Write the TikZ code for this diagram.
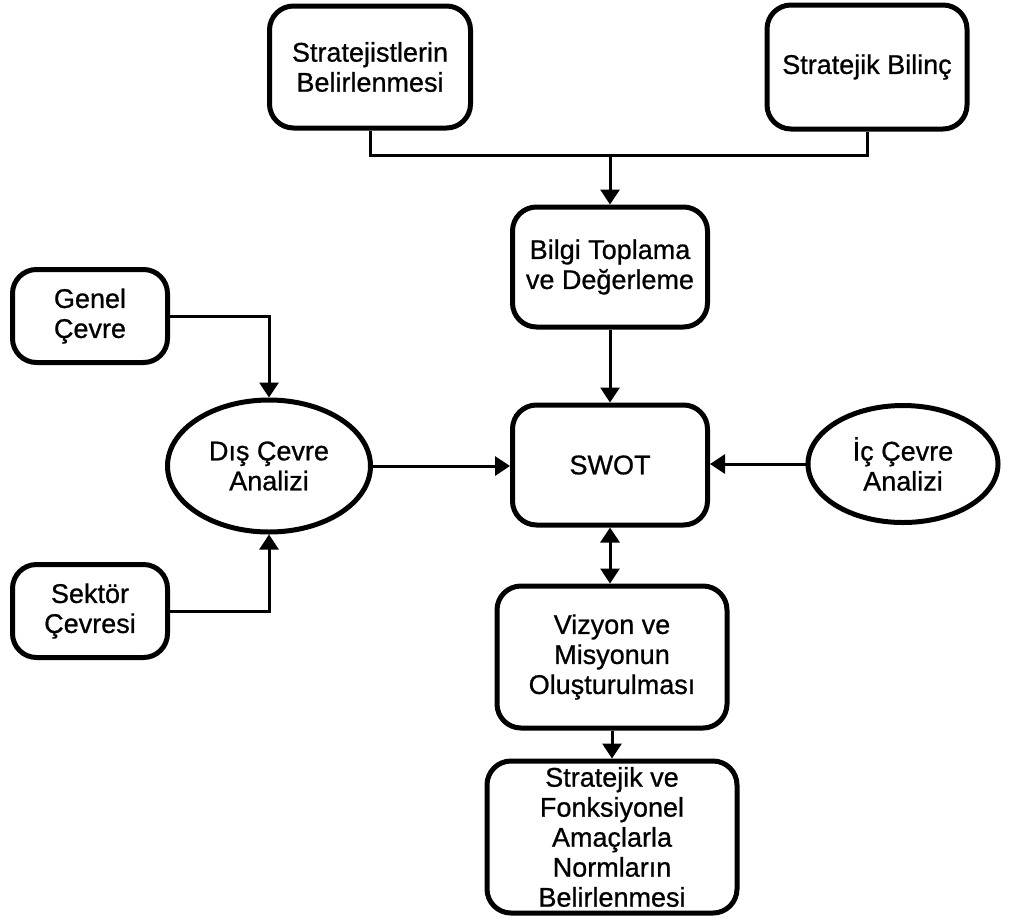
\documentclass[tikz,border=0pt]{standalone}
\usepackage{fontspec}
\setmainfont{Liberation Sans}[AutoFakeBold=0.8]
\usetikzlibrary{arrows.meta,shapes.geometric,calc}
\begin{document}
\begin{tikzpicture}[x=1pt,y=-1pt,
  every node/.style={font=\fontsize{27}{30}\selectfont\bfseries, align=center, inner sep=0pt},
  box/.style={draw, line width=5pt, rounded corners=24pt, rectangle},
  oval/.style={draw, line width=5pt, ellipse},
  link/.style={line width=3pt},
  arr/.style={link, -{Triangle[width=19pt,length=15pt]}},
  darr/.style={link, {Triangle[width=19pt,length=15pt]}-{Triangle[width=19pt,length=15pt]}}]
\useasboundingbox (0,0) rectangle (1019,919);

% boxes
\node[box, minimum width=201pt, minimum height=122pt] (strat) at (370,67) {Stratejistlerin\\Belirlenmesi};
\node[box, minimum width=200pt, minimum height=124pt] (bilinc) at (867,67) {Stratejik Bilinç};
\node[box, minimum width=195pt, minimum height=120pt] (bilgi) at (610,267) {Bilgi Toplama\\ve Değerleme};
\node[box, minimum width=155pt, minimum height=93pt] (genel) at (90,316) {Genel\\Çevre};
\node[oval, minimum width=203pt, minimum height=132pt] (dis) at (269,466) {Dış Çevre\\Analizi};
\node[box, minimum width=195pt, minimum height=120pt] (swot) at (610,465) {SWOT};
\node[oval, minimum width=190pt, minimum height=117pt] (ic) at (903,464) {İç Çevre\\Analizi};
\node[box, minimum width=155pt, minimum height=93pt] (sektor) at (90,611) {Sektör\\Çevresi};
\node[box, minimum width=230pt, minimum height=142pt] (vizyon) at (612,657) {Vizyon ve\\Misyonun\\Oluşturulması};
\node[box, minimum width=250pt, minimum height=152pt] (norm) at (612,837) {Stratejik ve\\Fonksiyonel\\Amaçlarla\\Normların\\Belirlenmesi};

% junction of the two top boxes
\coordinate (jn) at (610,155);

% connectors
\draw[link] (strat.south) |- (jn) -| (bilinc.south);
\draw[arr] (jn) -- (bilgi.north);
\draw[arr] (bilgi.south) -- (swot.north);
\draw[arr] (genel.east) -| (dis.north);
\draw[arr] (sektor.east) -| (dis.south);
\draw[arr] (dis.east) -- (dis.east -| swot.west);
\draw[arr] (ic.west) -- (ic.west -| swot.east);
\draw[darr] (swot.south) -- (swot.south |- vizyon.north);
\draw[arr] (vizyon.south) -- (vizyon.south |- norm.north);
\end{tikzpicture}
\end{document}
